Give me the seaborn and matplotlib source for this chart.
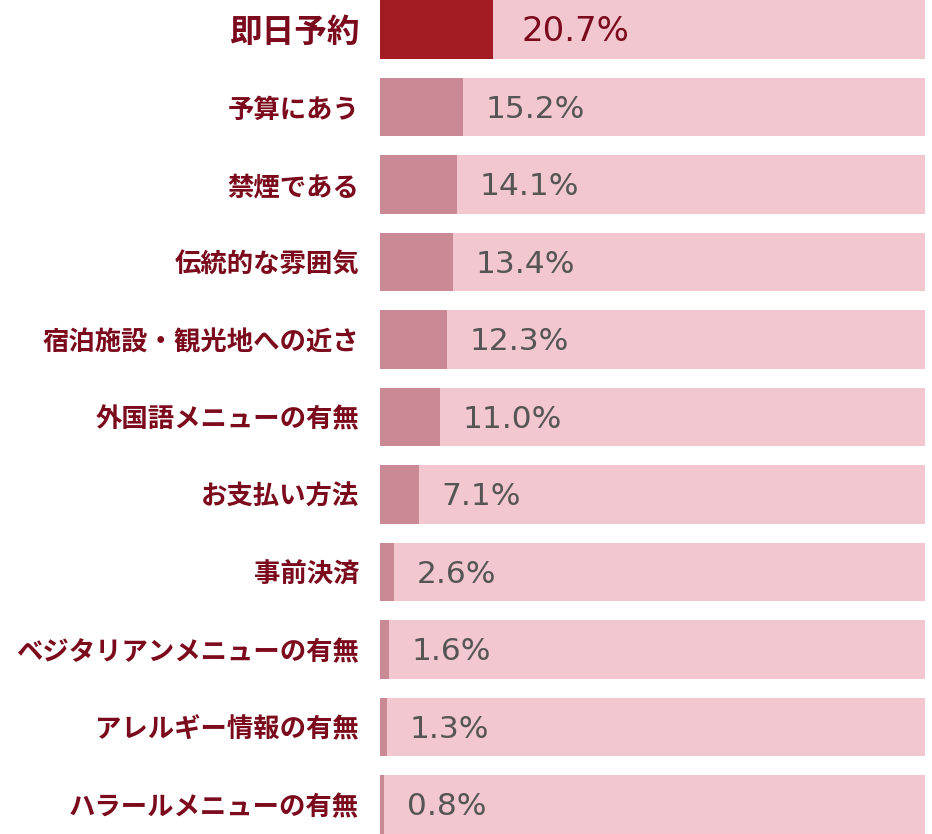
import matplotlib
matplotlib.use("Agg")
import matplotlib.pyplot as plt
import seaborn as sns
import pandas as pd

categories = ["即日予約", "予算にあう", "禁煙である", "伝統的な雰囲気", "宿泊施設・観光地への近さ",
              "外国語メニューの有無", "お支払い方法", "事前決済", "ベジタリアンメニューの有無",
              "アレルギー情報の有無", "ハラールメニューの有無"]
values = [20.7, 15.2, 14.1, 13.4, 12.3, 11.0, 7.1, 2.6, 1.6, 1.3, 0.8]
value_labels = ["20.7%", "15.2%", "14.1%", "13.4%", "12.3%", "11.0%", "7.1%", "2.6%", "1.6%", "1.3%", "0.8%"]
full_scale = [100] * len(categories)

sns.set_theme(style="white")
plt.rcParams['font.family'] = ['Noto Sans CJK JP', 'DejaVu Sans']

label_red = "#7b0a1c"
top_bar = "#a51b24"
mid_bar = "#c98a96"
bg_bar = "#f2c7cf"

df = pd.DataFrame({"cat": categories, "val": values, "full": full_scale})
bar_colors = [top_bar] + [mid_bar] * (len(categories) - 1)

fig = plt.figure(figsize=(9.32, 8.34), dpi=100)
ax = fig.add_axes([380 / 932, 0, 545 / 932, 1])

sns.barplot(data=df, x="full", y="cat", color=bg_bar, width=0.76, ax=ax,
            saturation=1, edgecolor="none", linewidth=0)
sns.barplot(data=df, x="val", y="cat", hue="cat", palette=bar_colors, width=0.76, ax=ax,
            saturation=1, edgecolor="none", linewidth=0, legend=False)

ax.set_xlim(0, 100)
ax.set_ylim(len(categories) - 1 + 0.38, -0.38)
ax.set_xlabel("")
ax.set_ylabel("")
ax.set_xticks([])
for s in ax.spines.values():
    s.set_visible(False)

ax.tick_params(axis="y", length=0, pad=15)
ticklabels = ax.get_yticklabels()
for i, t in enumerate(ticklabels):
    t.set_color(label_red)
    t.set_fontweight("bold")
    t.set_fontsize(23.5 if i == 0 else 19)

for i, (v, lab) in enumerate(zip(values, value_labels)):
    if i == 0:
        ax.text(v + 5.2, i + 0.03, lab, va="center", ha="left", fontsize=24.5, color=label_red,
                family=['DejaVu Sans'])
    else:
        ax.text(v + 4.2, i + 0.03, lab, va="center", ha="left", fontsize=22.5, color="#555555",
                family=['DejaVu Sans'])

fig.savefig("out.png", dpi=100)
